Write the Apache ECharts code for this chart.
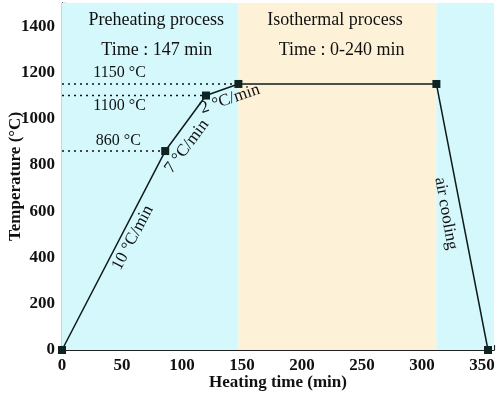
<!DOCTYPE html>
<html><head><meta charset="utf-8">
<script src="https://cdn.jsdelivr.net/npm/echarts@6/dist/echarts.min.js"></script>
<style>html,body{margin:0;padding:0;background:#fff}#c{width:498px;height:399px}</style>
</head><body><div id="c"></div>
<script>
const times = [0, 86, 120, 147, 312, 355];
const temps = [0, 860, 1100, 1150, 1150, 0];
const refTemps = [1150, 1100, 860];
const refTimes = [147, 120, 86];
const stages = [[0, 147, '#d4f8fc'], [147, 312, '#fdf2d8'], [312, 360, '#d4f8fc']];
const xTicks = [0, 50, 100, 150, 200, 250, 300, 350];
const yTicks = [0, 200, 400, 600, 800, 1000, 1200, 1400];

const serif = '"Liberation Serif","Times New Roman",serif';
const ink = '#111a1a';
const chart = echarts.init(document.getElementById('c'));

const series = [{
  type: 'line',
  data: times.map((t, i) => [t, temps[i]]),
  symbol: 'rect', symbolSize: 8, clip: false,
  itemStyle: { color: '#0f2422' },
  lineStyle: { color: ink, width: 1.5 },
  z: 5,
  markArea: {
    silent: true,
    data: stages.map(s => [{ xAxis: s[0], itemStyle: { color: s[2] } }, { xAxis: s[1] }])
  }
}];
refTemps.forEach((v, i) => {
  series.push({
    type: 'line', data: [[0, v], [refTimes[i], v]], symbol: 'none', z: 3,
    lineStyle: { color: '#111', width: 1.6, type: [2, 4] }
  });
});

const axisCommon = {
  axisLine: { show: true, lineStyle: { color: '#222', width: 1.2 } },
  axisTick: { show: true, inside: true, length: 5, lineStyle: { color: '#222', width: 1.2 } },
  splitLine: { show: false }
};
const labelStyle = { fontFamily: serif, fontWeight: 'bold', fontSize: 17, color: '#111', margin: 7 };
const xSet = new Set(xTicks), ySet = new Set(yTicks);

chart.setOption({
  animation: false,
  grid: { left: 62, right: 4, top: 3, bottom: 49, outerBoundsMode: 'none', containLabel: false },
  xAxis: [Object.assign({
    type: 'value', min: 0, max: 360, interval: 50,
    name: 'Heating time (min)', nameLocation: 'middle', nameGap: 24, nameMoveOverlap: false,
    nameTextStyle: { fontFamily: serif, fontWeight: 'bold', fontSize: 17, color: '#111' },
    axisLabel: Object.assign({ formatter: v => xSet.has(v) ? String(v) : '' }, labelStyle)
  }, axisCommon),
  Object.assign({}, axisCommon, { type: 'value', position: 'top', min: 0, max: 360, interval: 50, axisTick: { show: false }, axisLabel: { show: false } })],
  yAxis: [Object.assign({
    type: 'value', min: 0, max: 1500, interval: 200,
    name: 'Temperature (°C)', nameLocation: 'middle', nameGap: 38, nameMoveOverlap: false,
    nameTextStyle: { fontFamily: serif, fontWeight: 'bold', fontSize: 17, color: '#111' },
    axisLabel: Object.assign({ formatter: v => ySet.has(v) ? String(v) : '' }, labelStyle)
  }, axisCommon),
  Object.assign({}, axisCommon, { type: 'value', position: 'right', min: 0, max: 1500, interval: 200, axisTick: { show: false }, axisLabel: { show: false } })],
  series: series
});

function px(x, y) { return chart.convertToPixel({ xAxisIndex: 0, yAxisIndex: 0 }, [x, y]); }
function txt(x, y, s, size, rotDeg) {
  const p = px(x, y);
  return {
    type: 'text', x: p[0], y: p[1], rotation: (rotDeg || 0) * Math.PI / 180, z: 10,
    style: { text: s, font: size + 'px ' + serif, fill: '#111', textAlign: 'center', textVerticalAlign: 'middle' }
  };
}
chart.setOption({
  graphic: [
    txt(78.5, 1425, 'Preheating process', 18),
    txt(79, 1295, 'Time : 147 min', 18),
    txt(227.5, 1425, 'Isothermal process', 18),
    txt(233, 1295, 'Time : 0-240 min', 18),
    txt(48, 1200, '1150 °C', 16),
    txt(48, 1055, '1100 °C', 16),
    txt(47, 905, '860 °C', 16),
    txt(59, 485, '10 °C/min', 17, 62),
    txt(104, 880, '7 °C/min', 17, 53),
    txt(140, 1085, '2 °C/min', 17, 19),
    txt(320, 590, 'air cooling', 17, -80)
  ]
});
</script></body></html>
